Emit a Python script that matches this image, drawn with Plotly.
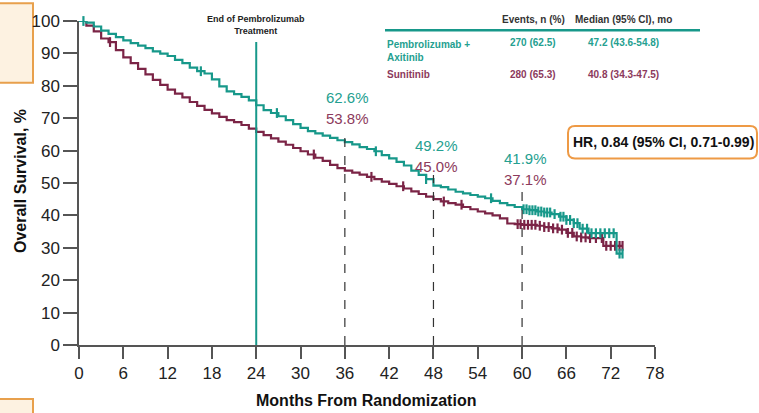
import numpy as np
import plotly.graph_objects as go

# Kaplan-Meier step estimates (months, overall survival %)
pembro_t = [0, 1, 2, 3, 4, 5, 6, 7, 8, 9, 10, 11, 12, 13, 14, 15, 16, 17, 18, 19,
            20, 21, 22, 23, 24, 25, 26, 27, 28, 29, 30, 31, 32, 33, 34, 35, 36, 37,
            38, 39, 40, 41, 42, 43, 44, 45, 46, 47, 48, 49, 50, 51, 52, 53, 54, 55,
            56, 57, 58, 59, 60, 61, 62, 63, 64, 65, 66, 67, 67.8, 69, 72.8, 73.6]
pembro_s = [100, 99.5, 98.3, 97.0, 96.0, 95.0, 94.0, 93.2, 92.4, 91.6, 90.6, 89.9,
            89.2, 88.0, 87.0, 85.6, 84.5, 83.8, 82.0, 79.8, 78.3, 77.4, 76.6, 75.5,
            74.0, 72.5, 71.6, 70.6, 69.4, 68.2, 67.0, 66.0, 65.3, 64.6, 63.9, 63.2,
            62.6, 61.9, 61.1, 60.5, 59.8, 58.6, 57.6, 56.5, 55.4, 53.8, 52.5, 51.2,
            49.2, 48.7, 48.0, 47.3, 46.8, 46.3, 45.8, 45.3, 44.5, 43.8, 43.2, 42.6,
            41.9, 41.6, 41.2, 40.9, 40.4, 39.6, 38.6, 37.6, 35.9, 34.5, 28.2, 28.2]

sunit_t = [0, 1, 2, 3, 4, 5, 6, 7, 8, 9, 10, 11, 12, 13, 14, 15, 16, 17, 18, 19,
           20, 21, 22, 23, 24, 25, 26, 27, 28, 29, 30, 31, 32, 33, 34, 35, 36, 37,
           38, 39, 40, 41, 42, 43, 44, 45, 46, 47, 48, 49, 50, 51, 52, 53, 54, 55,
           56, 57, 58, 59, 60, 61, 62, 63, 64, 65, 66, 67, 68, 69, 71, 73.6]
sunit_s = [100, 98.6, 96.8, 94.6, 93.5, 91.0, 88.8, 87.0, 85.2, 83.5, 81.8, 80.3,
           78.8, 77.6, 76.4, 75.0, 73.8, 72.6, 71.5, 70.4, 69.4, 68.8, 67.9, 66.8,
           65.8, 64.8, 63.8, 62.8, 61.8, 60.8, 59.8, 58.8, 57.8, 56.8, 55.6, 54.6,
           53.8, 53.2, 52.6, 51.9, 51.2, 50.4, 49.7, 49.0, 48.3, 47.4, 46.6, 45.8,
           45.0, 44.3, 43.8, 43.3, 42.6, 41.9, 41.2, 40.6, 40.0, 39.1, 37.5, 37.3,
           37.1, 37.1, 36.8, 36.4, 36.0, 35.6, 34.6, 33.5, 33.2, 33.0, 30.6, 30.6]

# Censoring times (months)
pembro_cens = [0.6, 16.5, 26.8, 40.2, 47.0, 55.8, 60.2, 60.6, 61.0, 61.4, 61.8, 62.2,
               62.6, 63.0, 63.4, 63.8, 64.4, 65.2, 65.6, 66.0, 66.5, 67.0, 67.5,
               68.2, 68.8, 69.4, 70.0, 70.6, 71.2, 71.8, 72.4, 73.2, 73.6]
sunit_cens = [4.2, 31.8, 39.6, 43.9, 49.4, 51.8, 59.4, 59.8, 60.3, 60.8, 61.3, 61.8,
              62.4, 63.0, 63.6, 64.2, 64.8, 65.4, 66.2, 66.8, 67.4, 68.0, 68.6,
              69.2, 70.0, 70.8, 71.4, 72.0, 72.6, 73.2, 73.6]

# Landmark estimates
landmark_m = [36, 48, 60]
pembro_land = [62.6, 49.2, 41.9]
sunit_land = [53.8, 45.0, 37.1]
dash_top = [65.5, 52.5, 48.0]

x_ticks = list(range(0, 79, 6))
y_ticks = list(range(0, 101, 10))

TEAL = "#17988A"
MAROON = "#7B2446"
TEAL_TXT = "#24A090"
MAROON_TXT = "#8C3A5C"
SANS = "Liberation Sans, Arial, sans-serif"

# pixel geometry of the plotting area
L, R, T, B = 79, 104, 15, 68
W, H = 759, 413
PW, PH = W - L - R, H - T - B


def px(x):
    return (x - L) / PW


def py(y):
    return (H - B - y) / PH


def surv_at(times, surv, t):
    idx = np.searchsorted(np.asarray(times), np.asarray(t), side="right") - 1
    return np.asarray(surv)[idx]


fig = go.Figure()

for t, s, cens, col, name in [
    (sunit_t, sunit_s, sunit_cens, MAROON, "Sunitinib"),
    (pembro_t, pembro_s, pembro_cens, TEAL, "Pembrolizumab + Axitinib"),
]:
    fig.add_trace(go.Scatter(x=t, y=s, mode="lines", line=dict(color=col, width=2.2, shape="hv"),
                             name=name, showlegend=False, hoverinfo="skip"))
    fig.add_trace(go.Scatter(x=cens, y=surv_at(t, s, cens), mode="markers",
                             marker=dict(symbol="line-ns-open", size=7, color=col,
                                         line=dict(color=col, width=2.2)),
                             showlegend=False, hoverinfo="skip", cliponaxis=False))

shapes = []
# end of pembrolizumab treatment marker
shapes.append(dict(type="line", xref="x", yref="y", x0=24, x1=24, y0=0, y1=93.5,
                   line=dict(color=TEAL, width=2)))
# landmark dashed guides
for m, top in zip(landmark_m, dash_top):
    shapes.append(dict(type="line", xref="x", yref="y", x0=m, x1=m, y0=0, y1=top,
                       line=dict(color="#333", width=1.2, dash="dash")))
# table header rule
shapes.append(dict(type="line", xref="paper", yref="paper", x0=px(385), x1=px(700),
                   y0=py(24.5), y1=py(24.5), line=dict(color=TEAL, width=2.5)))


def rounded_box(x0, y0, x1, y1, r):
    X0, X1 = px(x0), px(x1)
    Y0, Y1 = py(y0), py(y1)
    rx, ry = r / PW, r / PH
    return (f"M {X0 + rx},{Y0} L {X1 - rx},{Y0} Q {X1},{Y0} {X1},{Y0 - ry} "
            f"L {X1},{Y1 + ry} Q {X1},{Y1} {X1 - rx},{Y1} L {X0 + rx},{Y1} "
            f"Q {X0},{Y1} {X0},{Y1 + ry} L {X0},{Y0 - ry} Q {X0},{Y0} {X0 + rx},{Y0} Z")


shapes.append(dict(type="path", xref="paper", yref="paper", path=rounded_box(568, 122, 757, 155, 7),
                   fillcolor="white", line=dict(color="#EE9A45", width=2)))
# slide frame boxes at the left edge
shapes.append(dict(type="rect", xref="paper", yref="paper", x0=px(-3), x1=px(33), y0=py(-3), y1=py(78),
                   fillcolor="#FDF2E1", line=dict(color="#E8A04C", width=2), layer="below"))
shapes.append(dict(type="rect", xref="paper", yref="paper", x0=px(-3), x1=px(33), y0=py(400), y1=py(416),
                   fillcolor="#FDF2E1", line=dict(color="#E8A04C", width=2), layer="below"))

ann = []


def text(x, y, s, size, color, bold=True, xanchor="center", yanchor="middle", align="center"):
    ann.append(dict(xref="paper", yref="paper", x=px(x), y=py(y), text=f"<b>{s}</b>" if bold else s,
                    showarrow=False, xanchor=xanchor, yanchor=yanchor, align=align,
                    font=dict(size=size, color=color, family=SANS)))


# landmark labels
for m, a, b, dy in zip(landmark_m, pembro_land, sunit_land, [0, 49, 62]):
    xc = L + m * PW / 78 + 3
    text(xc, 93 + dy, f"{a:.1f}%", 15, TEAL_TXT, bold=False)
    text(xc, 114 + dy, f"{b:.1f}%", 15, MAROON_TXT, bold=False)

text(256, 19, "End of Pembrolizumab<br>Treatment", 9, "#222")

# summary table
text(533, 13, "Events, n (%)", 10, "#333")
text(623, 13, "Median (95% CI), mo", 10, "#333")
text(385, 31, "Pembrolizumab +<br>Axitinib", 10, TEAL_TXT, xanchor="left", yanchor="top", align="left")
text(533, 37, "270 (62.5)", 10, TEAL_TXT)
text(623, 37, "47.2 (43.6-54.8)", 10, TEAL_TXT)
text(385, 70, "Sunitinib", 10, MAROON_TXT, xanchor="left")
text(533, 70, "280 (65.3)", 10, MAROON_TXT)
text(623, 70, "40.8 (34.3-47.5)", 10, MAROON_TXT)

text(663, 138, "HR, 0.84 (95% CI, 0.71-0.99)", 14, "#111")

# axis titles
text(366, 402, "Months From Randomization", 16, "#111")
ann.append(dict(xref="paper", yref="paper", x=px(20), y=py(178), text="<b>Overall Survival, %</b>",
                showarrow=False, textangle=-90, xanchor="center", yanchor="middle",
                font=dict(size=16, color="#111", family=SANS)))

axis_common = dict(showline=True, linecolor="#555", linewidth=1.5, ticks="outside",
                   tickcolor="#555", tickwidth=1.5, showgrid=False, zeroline=False,
                   tickfont=dict(size=17, color="#222", family=SANS))

fig.update_layout(
    width=W, height=H, margin=dict(l=L, r=R, t=T, b=B),
    paper_bgcolor="white", plot_bgcolor="white",
    xaxis=dict(range=[0, 78], tickvals=x_ticks, ticklen=12, **axis_common),
    yaxis=dict(range=[0, 100], tickvals=y_ticks, ticklen=14, **axis_common),
    shapes=shapes, annotations=ann, showlegend=False,
)

fig.write_html("out.html")
